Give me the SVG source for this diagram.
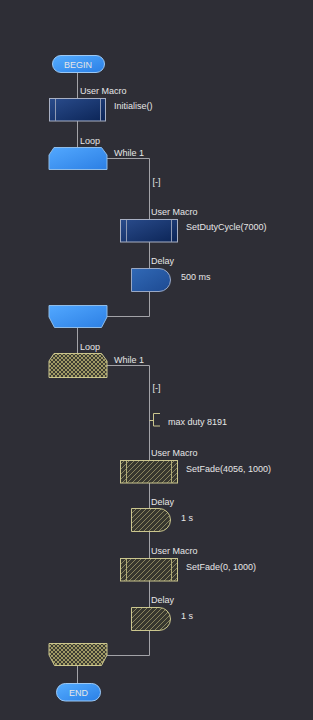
<svg xmlns="http://www.w3.org/2000/svg" width="313" height="720" viewBox="0 0 313 720">
<defs>
<linearGradient id="gPill" x1="0" y1="0" x2="1" y2="1"><stop offset="0" stop-color="#55adff"/><stop offset="1" stop-color="#2a7fe6"/></linearGradient>
<linearGradient id="gLoop" x1="0" y1="0" x2="1" y2="1"><stop offset="0" stop-color="#52a8ff"/><stop offset="1" stop-color="#2c7fe4"/></linearGradient>
<linearGradient id="gMacro" x1="0" y1="0" x2="1" y2="1"><stop offset="0" stop-color="#2a4c8c"/><stop offset="1" stop-color="#0b2456"/></linearGradient>
<linearGradient id="gDelay" x1="0" y1="0" x2="1" y2="1"><stop offset="0" stop-color="#3169b6"/><stop offset="1" stop-color="#1d4a92"/></linearGradient>
<pattern id="pCross" width="4" height="4" patternUnits="userSpaceOnUse">
<rect width="4" height="4" fill="#3c3c33"/>
<path d="M0,0 L4,4 M4,0 L0,4" stroke="#a09a64" stroke-width="1"/>
</pattern>
<pattern id="pDiag" width="5" height="5" patternUnits="userSpaceOnUse">
<rect width="5" height="5" fill="#37372f"/>
<path d="M-1,6 L6,-1 M-1,1 L1,-1 M4,6 L6,4" stroke="#8a8560" stroke-width="1"/>
</pattern>
</defs>
<style>
text{font-family:"Liberation Sans",Arial,sans-serif;font-size:9px;fill:#e6e6e6}
.c{fill:none;stroke:#a3a3a8;stroke-width:1}
.pill{stroke:#9cc8f4;stroke-width:1}
.loop{fill:url(#gLoop);stroke:#8fbce8;stroke-width:1}
.macro{fill:url(#gMacro);stroke:#a8b0c4;stroke-width:1}
.inner{stroke:#8f9ab4;stroke-width:1}
.delay{fill:url(#gDelay);stroke:#9aa8c4;stroke-width:1}
.hloop{fill:url(#pCross);stroke:#cbc68e;stroke-width:1}
.hmacro{fill:url(#pDiag);stroke:#cbc68e;stroke-width:1}
.hinner{stroke:#b0ab78;stroke-width:1}
.cm{fill:none;stroke:#cbc68e;stroke-width:1}
.mid{text-anchor:middle}
</style>
<rect width="313" height="720" fill="#2e2e36"/>
<g id="connectors">
<path class="c" d="M77.5,72 V98 M77.5,121 V147"/>
<path class="c" d="M107,158.5 H149.5 V316.5 H107"/>
<path class="c" d="M77.5,327 V353"/>
<path class="c" d="M107,365.5 H149.5 V655.5 H107"/>
<path class="c" d="M77.5,665 V683"/>
</g>
<g id="begin">
<rect class="pill" x="52.5" y="55.5" width="52" height="17" rx="8.5" fill="url(#gPill)"/>
<text class="mid" x="78" y="67.5">BEGIN</text>
</g>
<g id="initialise">
<text x="80" y="94">User Macro</text>
<rect class="macro" x="49.5" y="98.5" width="56" height="22.5"/>
<path class="inner" d="M55.5,99 V121 M100.5,99 V121"/>
<text x="114" y="109">Initialise()</text>
</g>
<g id="loop1">
<text x="80" y="144">Loop</text>
<path class="loop" d="M54,147.5 H101.5 L107,155 V169.5 H49 V155 Z"/>
<text x="114" y="156">While 1</text>
<text x="152.5" y="185">[-]</text>
</g>
<g id="setduty">
<text x="151" y="215">User Macro</text>
<rect class="macro" x="120.5" y="219.5" width="57" height="22.5"/>
<path class="inner" d="M126.5,220 V242 M171.5,220 V242"/>
<text x="186" y="229.5">SetDutyCycle(7000)</text>
</g>
<g id="delay1">
<text x="151" y="264">Delay</text>
<path class="delay" d="M131.5,268.5 H159 A11.5,11.5 0 0 1 159,291.5 H131.5 Z"/>
<text x="181" y="279.5">500 ms</text>
</g>
<g id="loop1end">
<path class="loop" d="M49,305.5 H107 V317 L101.5,327.5 H54.5 L49,317 Z"/>
</g>
<g id="loop2">
<text x="80" y="350">Loop</text>
<path class="hloop" d="M54,353.5 H101.5 L107,361 V377.5 H49 V361 Z"/>
<text x="114" y="363">While 1</text>
<text x="152.5" y="391">[-]</text>
</g>
<g id="comment">
<path class="cm" d="M149.5,420.5 H153.5 M160,413.5 H153.5 V426 H160"/>
<text x="168" y="424.5">max duty 8191</text>
</g>
<g id="setfade1">
<text x="151" y="456">User Macro</text>
<rect class="hmacro" x="120.5" y="460.5" width="57" height="22.5"/>
<path class="hinner" d="M126.5,461 V483 M171.5,461 V483"/>
<text x="186" y="471.5">SetFade(4056, 1000)</text>
</g>
<g id="delay2">
<text x="151" y="505">Delay</text>
<path class="hmacro" d="M131.5,508.5 H159 A11.5,11.5 0 0 1 159,531.5 H131.5 Z"/>
<text x="181" y="520.5">1 s</text>
</g>
<g id="setfade2">
<text x="151" y="554">User Macro</text>
<rect class="hmacro" x="120.5" y="558.5" width="57" height="22.5"/>
<path class="hinner" d="M126.5,559 V581 M171.5,559 V581"/>
<text x="186" y="569.5">SetFade(0, 1000)</text>
</g>
<g id="delay3">
<text x="151" y="603">Delay</text>
<path class="hmacro" d="M131.5,607.5 H159 A11.5,11.5 0 0 1 159,630.5 H131.5 Z"/>
<text x="181" y="618.5">1 s</text>
</g>
<g id="loop2end">
<path class="hloop" d="M49,643.5 H107 V655 L101.5,665.5 H54.5 L49,655 Z"/>
</g>
<g id="end">
<rect class="pill" x="56.5" y="683.5" width="44" height="17.5" rx="8.75" fill="url(#gPill)"/>
<text class="mid" x="78.5" y="695.5">END</text>
</g>
</svg>
